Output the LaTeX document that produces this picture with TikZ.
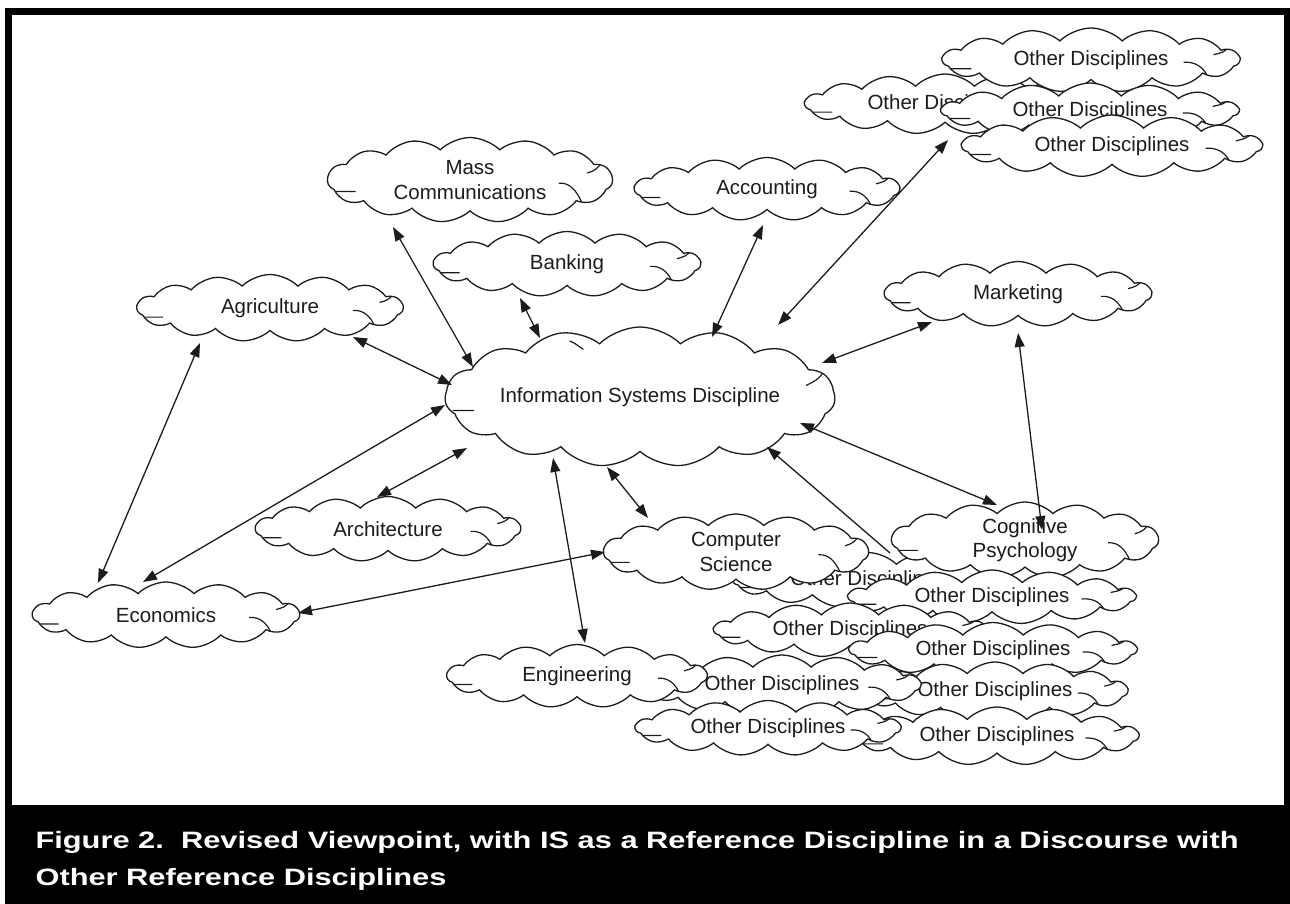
\documentclass[tikz,border=0pt]{standalone}
\usepackage{fontspec}
\setmainfont{Liberation Sans}
\newfontfamily\capfont[FakeStretch=1.3]{Liberation Sans}
\usetikzlibrary{shapes.symbols,arrows.meta,calc}
\definecolor{ScanBlack}{HTML}{1C1C1C}

\begin{document}
\begin{tikzpicture}[x=1pt, y=-1pt,
    curl/.style={draw=ScanBlack, line width=1.2pt},
    disc/.style={cloud, cloud puffs=15, cloud puff arc=90, cloud ignores aspect,
      draw=ScanBlack, line width=1.3pt, fill=white, inner sep=0pt, align=center,
      text=ScanBlack, font=\fontsize{20.5}{24.5}\selectfont,
      path picture={
        \draw[curl] let \p1=(path picture bounding box.south west),
          \p2=(path picture bounding box.north east),
          \n1={\x2-\x1}, \n2={\y2-\y1} in
          ({\x1+0.81*\n1},{\y1+0.46*\n2}) to[out=5, in=115] ({\x1+0.89*\n1},{\y1+0.24*\n2})
          ({\x1+0.03*\n1},{\y1+0.36*\n2}) -- ({\x1+0.10*\n1},{\y1+0.36*\n2})
          ({\x1+0.91*\n1},{\y1+0.58*\n2}) to[out=15, in=-115] ({\x1+0.96*\n1},{\y1+0.71*\n2});}},
    iscurls/.style={path picture={
        \draw[curl] let \p1=(path picture bounding box.south west),
          \p2=(path picture bounding box.north east),
          \n1={\x2-\x1}, \n2={\y2-\y1} in
          ({\x1+0.02*\n1},{\y1+0.40*\n2}) -- ({\x1+0.075*\n1},{\y1+0.40*\n2})
          ({\x1+0.925*\n1},{\y1+0.58*\n2}) to[out=25, in=-120] ({\x1+0.97*\n1},{\y1+0.68*\n2})
          ({\x1+0.32*\n1},{\y1+0.90*\n2}) to[out=-20, in=150] ({\x1+0.355*\n1},{\y1+0.84*\n2});}},
    link/.style={{Triangle[length=14pt,width=10pt]}-{Triangle[length=14pt,width=10pt]},
      draw=ScanBlack, line width=1.3pt},
    oneway/.style={-{Triangle[length=14pt,width=10pt]}, draw=ScanBlack, line width=1.3pt}]
  \useasboundingbox (0,0) rectangle (1290,903);
  % Frame and caption band
  \draw[line width=7pt] (8.5,11) rectangle (1287,906);
  \fill (5,805) rectangle (1290,903);
  \node[anchor=base west, text=white, font=\capfont\bfseries\fontsize{23.7}{30}\selectfont]
    (capa) at (32,848) {Figure 2.\ \ Revised Viewpoint, with IS as a Reference Discipline in a Discourse with};
  \node[anchor=base west, text=white, font=\capfont\bfseries\fontsize{23.7}{30}\selectfont]
    (capb) at (32,885) {Other Reference Disciplines};

  % Other disciplines, top right
  \node[disc, minimum width=280, minimum height=60] (od2) at (945,104) {Other Disciplines};
  \node[disc, minimum width=297, minimum height=64] (od1) at (1091,60) {Other Disciplines};
  \node[disc, minimum width=297, minimum height=56] (od3) at (1090,111) {Other Disciplines};
  \node[disc, minimum width=300, minimum height=62] (od4) at (1112,146) {Other Disciplines};

  % Reference disciplines
  \node[disc, minimum width=285, minimum height=85] (mass) at (470,180) {Mass\\Communications};
  \node[disc, minimum width=265, minimum height=63] (acc) at (767,189) {Accounting};
  \node[disc, minimum width=267, minimum height=65] (bank) at (567,264) {Banking};
  \node[disc, minimum width=266, minimum height=67] (agri) at (270,308) {Agriculture};
  \node[disc, iscurls, minimum width=385, minimum height=140] (isd) at (640,397) {Information Systems Discipline};
  \node[disc, minimum width=267, minimum height=65] (mkt) at (1018,294) {Marketing};
  \node[disc, minimum width=265, minimum height=65] (arch) at (388,529) {Architecture};
  \node[disc, minimum width=267, minimum height=66] (econ) at (166,615) {Economics};

  % Lower right cluster
  \node[disc, minimum width=270, minimum height=55] (odcs) at (868,580) {Other Disciplines};
  \node[disc, minimum width=265, minimum height=76] (cs) at (736,552) {Computer\\Science};
  \node[disc, minimum width=267, minimum height=76] (cog) at (1025,540) {Cognitive\\Psychology};
  \node[disc, minimum width=287, minimum height=54] (od597) at (992,597) {Other Disciplines};
  \node[disc, minimum width=272, minimum height=54] (od630) at (850,630) {Other Disciplines};
  \node[disc, minimum width=287, minimum height=55] (od649) at (993,650) {Other Disciplines};
  \node[disc, minimum width=265, minimum height=58] (od691) at (995,691) {Other Disciplines};
  \node[disc, minimum width=283, minimum height=58] (od734) at (997,736) {Other Disciplines};
  \node[disc, minimum width=277, minimum height=60] (od683) at (782,685) {Other Disciplines};
  \node[disc, minimum width=260, minimum height=63] (eng) at (577,676) {Engineering};
  \node[disc, minimum width=265, minimum height=55] (od724) at (768,728) {Other Disciplines};

  % Links
  \draw[link] ($(mass)+(-77,47)$) -- ($(isd)+(-167,-30)$);
  \draw[link] ($(bank)+(-47,34)$) -- ($(isd)+(-100,-59)$);
  \draw[link] ($(acc)+(-4,36)$) -- ($(isd)+(72,-60)$);
  \draw[link] ($(od2)+(3,36)$) -- ($(isd)+(138,-72)$);
  \draw[link] ($(mkt)+(-86,28)$) -- ($(isd)+(182,-34)$);
  \draw[link] ($(mkt)+(0,39)$) -- ($(cog)+(17,-10)$);
  \draw[link] ($(isd)+(160,26)$) -- ($(cog)+(-28,-35)$);
  \draw[oneway] ($(odcs)+(22,-27)$) -- ($(isd)+(127,50)$);
  \draw[link] ($(isd)+(-33,70)$) -- ($(cs)+(-88,-34)$);
  \draw[link] ($(isd)+(-87,61)$) -- ($(eng)+(8,-33)$);
  \draw[link] ($(cs)+(-131,0)$) -- ($(econ)+(132,-2)$);
  \draw[link] ($(isd)+(-173,51)$) -- ($(arch)+(-11,-32)$);
  \draw[link] ($(isd)+(-195,8)$) -- ($(econ)+(-23,-33)$);
  \draw[link] ($(isd)+(-188,-12)$) -- ($(agri)+(83,29)$);
  \draw[link] ($(agri)+(-70,35)$) -- ($(econ)+(-68,-32)$);
\end{tikzpicture}
\end{document}
